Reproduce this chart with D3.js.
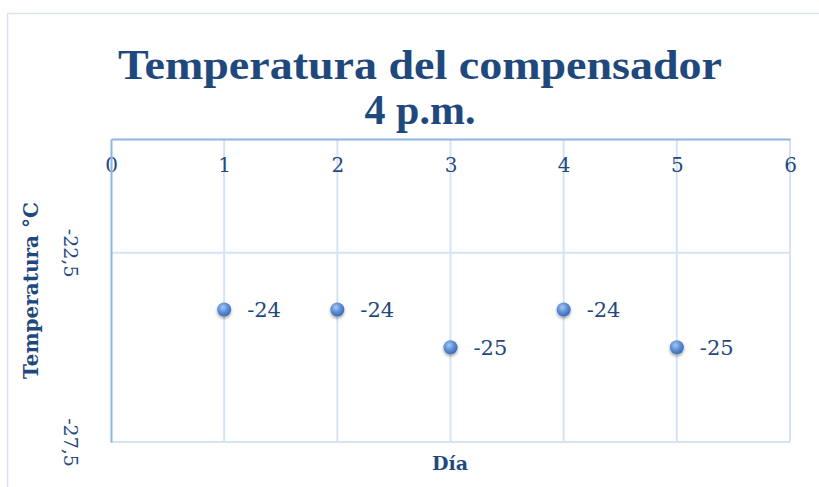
<!DOCTYPE html>
<html lang="es">
<head>
    <meta charset="UTF-8">
    <title>Temperatura del compensador 4 p.m.</title>
    <script src="https://d3js.org/d3.v7.min.js"></script>
    <style>
        body { margin: 0; background: #fff; }
        #chart { width: 819px; height: 487px; }
    </style>
</head>
<body>
    <div id="chart"></div>

    <script>
        // datos
        const dias = [1, 2, 3, 4, 5];
        const temperaturas = [-24, -24, -25, -24, -25];
        const ticksX = [0, 1, 2, 3, 4, 5, 6];
        const ticksY = [-27.5, -22.5];
        const titulo = ["Temperatura del compensador", "4 p.m."];

        const width = 819, height = 487;
        const plot = { left: 111, right: 790, top: 139, bottom: 442 };
        const azul = "#1f497d";
        const serif = "'DejaVu Serif', 'Liberation Serif', serif";
        const conComa = d => d3.format(".1f")(d).replace("−", "-").replace(".", ",");

        const svg = d3.select("#chart").append("svg")
            .attr("width", width)
            .attr("height", height);

        // degradado del marcador
        const defs = svg.append("defs");
        const grad = defs.append("radialGradient")
            .attr("id", "bola").attr("cx", "40%").attr("cy", "35%").attr("r", "65%");
        grad.append("stop").attr("offset", "0%").attr("stop-color", "#a9c6ef");
        grad.append("stop").attr("offset", "55%").attr("stop-color", "#5b8fd6");
        grad.append("stop").attr("offset", "100%").attr("stop-color", "#3a6db5");
        const sombra = defs.append("filter").attr("id", "sombra")
            .attr("x", "-50%").attr("y", "-50%").attr("width", "200%").attr("height", "200%");
        sombra.append("feDropShadow").attr("dx", 0).attr("dy", 2)
            .attr("stdDeviation", 1.6).attr("flood-color", "#000").attr("flood-opacity", 0.35);

        // marco exterior
        svg.append("rect")
            .attr("x", 7.5).attr("y", 13.5)
            .attr("width", width).attr("height", height)
            .attr("fill", "none").attr("stroke", "#d9e2ee").attr("stroke-width", 1.5);

        const x = d3.scaleLinear().domain([0, 6]).range([plot.left, plot.right]);
        const y = d3.scaleLinear().domain([-27.5, -19.5]).range([plot.bottom, plot.top]);

        // cuadrícula
        svg.append("g").selectAll("line")
            .data(ticksX.slice(1))
            .enter().append("line")
            .attr("x1", d => x(d)).attr("x2", d => x(d))
            .attr("y1", plot.top).attr("y2", plot.bottom)
            .attr("stroke", "#d6e3f5").attr("stroke-width", 2);

        svg.append("g").selectAll("line")
            .data(ticksY)
            .enter().append("line")
            .attr("x1", plot.left).attr("x2", plot.right)
            .attr("y1", d => y(d)).attr("y2", d => y(d))
            .attr("stroke", "#d6e3f5").attr("stroke-width", 2);

        // ejes (arriba e izquierda)
        const ejeX = svg.append("g")
            .attr("transform", `translate(0,${plot.top})`)
            .call(d3.axisTop(x).tickValues(ticksX).tickSize(0).tickFormat(d3.format("d")));
        ejeX.select(".domain").attr("stroke", "#8eb4e3").attr("stroke-width", 2);
        ejeX.selectAll("text")
            .attr("y", 33).attr("dy", 0)
            .attr("fill", azul).attr("font-family", serif).attr("font-size", 20);

        const ejeY = svg.append("g")
            .attr("transform", `translate(${plot.left},0)`)
            .call(d3.axisLeft(y).tickValues(ticksY).tickSize(0).tickFormat(conComa));
        ejeY.select(".domain").attr("stroke", "#8eb4e3").attr("stroke-width", 2);
        ejeY.selectAll("text")
            .attr("x", 0).attr("dy", 0)
            .attr("text-anchor", "middle")
            .attr("transform", "translate(-40,0) rotate(90)")
            .attr("dominant-baseline", "central")
            .attr("fill", azul).attr("font-family", serif).attr("font-size", 19);

        // puntos
        svg.append("g").selectAll("circle")
            .data(dias)
            .enter().append("circle")
            .attr("cx", d => x(d))
            .attr("cy", (d, i) => y(temperaturas[i]))
            .attr("r", 7)
            .attr("fill", "url(#bola)")
            .attr("filter", "url(#sombra)");

        // etiquetas de datos
        svg.append("g").selectAll("text")
            .data(dias)
            .enter().append("text")
            .attr("x", d => x(d) + 23)
            .attr("y", (d, i) => y(temperaturas[i]) + 8)
            .attr("fill", azul).attr("font-family", serif).attr("font-size", 21)
            .text((d, i) => d3.format("d")(temperaturas[i]).replace("−", "-"));

        // título
        svg.append("g").selectAll("text")
            .data(titulo)
            .enter().append("text")
            .attr("x", 420)
            .attr("y", (d, i) => 79 + i * 45)
            .attr("text-anchor", "middle")
            .attr("fill", azul)
            .attr("font-family", "'Liberation Serif', serif")
            .attr("font-weight", "bold")
            .attr("font-size", 42)
            .attr("textLength", (d, i) => i === 0 ? 604 : null)
            .attr("lengthAdjust", "spacingAndGlyphs")
            .text(d => d);

        // títulos de ejes
        svg.append("text")
            .attr("transform", `translate(38,${(plot.top + plot.bottom) / 2}) rotate(-90)`)
            .attr("text-anchor", "middle")
            .attr("fill", azul).attr("font-family", serif)
            .attr("font-weight", "bold").attr("font-size", 20)
            .text("Temperatura °C");

        svg.append("text")
            .attr("x", 450).attr("y", 470)
            .attr("text-anchor", "middle")
            .attr("fill", azul).attr("font-family", serif)
            .attr("font-weight", "bold").attr("font-size", 19)
            .text("Día");
    </script>
</body>
</html>
